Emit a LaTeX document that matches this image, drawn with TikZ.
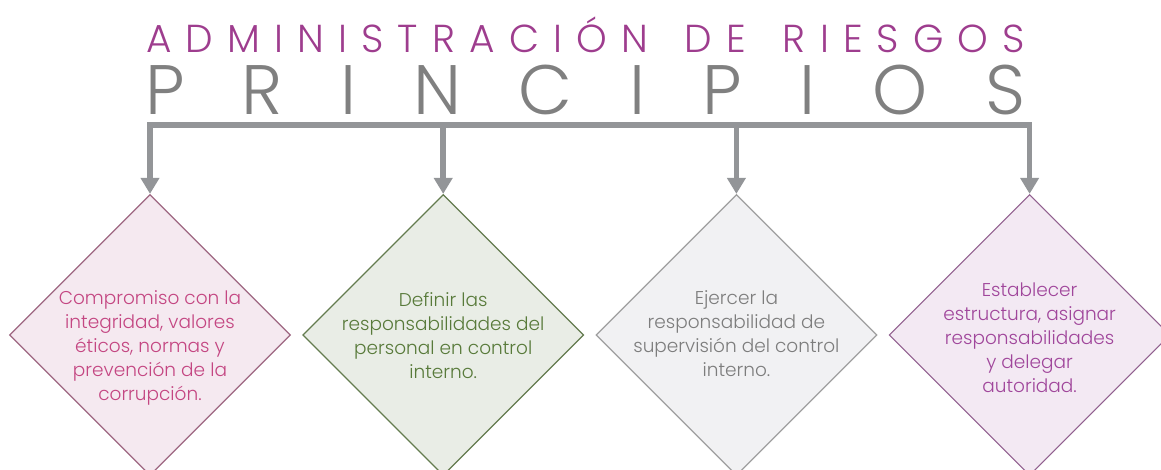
\documentclass[tikz,border=0pt]{standalone}
\usepackage{fontspec}
\setmainfont{Poppins}
\newfontfamily\thinfont{Poppins Light}
\usepackage{tikz}
\usetikzlibrary{arrows.meta,positioning,shapes.geometric}
\usepackage{xcolor}
\definecolor{titlepurple}{RGB}{158,61,142}
\definecolor{titlegray}{RGB}{128,128,128}
\definecolor{bargray}{RGB}{147,149,152}
\definecolor{pinkfill}{RGB}{245,233,240}
\definecolor{pinktext}{RGB}{196,70,130}
\definecolor{greenfill}{RGB}{233,237,230}
\definecolor{greentext}{RGB}{88,122,58}
\definecolor{greyfill}{RGB}{241,241,243}
\definecolor{greytext}{RGB}{125,125,125}
\definecolor{lilacfill}{RGB}{243,233,243}
\definecolor{lilactext}{RGB}{160,70,155}
\newcommand{\gapl}{\hskip 0pt plus 1fil}
\newcommand{\gapw}{\hskip 0pt plus 2.6fil}

\begin{document}
\begin{tikzpicture}[x=1pt,y=-1pt,node distance=11pt,>={Triangle[width=18pt,length=16pt]},
rombo/.style={draw,diamond,aspect=1,minimum width=281pt,minimum height=281pt,inner sep=0pt,line width=1.2pt},
txt/.style={align=center,font=\thinfont\fontsize{18.5}{24}\selectfont},
bar/.style={draw=bargray,line width=5.5pt}]
\path[use as bounding box,clip] (0,0) rectangle (1161,470);
\node[anchor=base west,inner sep=0pt,text=titlepurple,font=\thinfont\fontsize{39}{39}\selectfont] (tit) at (146,53)
{\hbox to 879pt{A\gapl D\gapl M\gapl I\gapl N\gapl I\gapl S\gapl T\gapl R\gapl A\gapl C\gapl I\gapl Ó\gapl N\gapw D\gapl E\gapw R\gapl I\gapl E\gapl S\gapl G\gapl O\gapl S}};
\node[anchor=base west,inner sep=0pt,text=titlegray,font=\thinfont\fontsize{70}{70}\selectfont] (sub) at (145,115)
{\hbox to 880pt{P\gapl R\gapl I\gapl N\gapl C\gapl I\gapl P\gapl I\gapl O\gapl S}};
\node[rombo,draw=pinktext!45!gray,fill=pinkfill] (d1) at (150,335) {};
\node[rombo,right=of d1,draw=greentext!70!gray,fill=greenfill] (d2) {};
\node[rombo,right=of d2,draw=gray!75,fill=greyfill] (d3) {};
\node[rombo,right=of d3,draw=lilactext!55!gray,fill=lilacfill] (d4) {};
\node[txt,text=pinktext] (t1) at ([yshift=-13pt]d1.center) {Compromiso con la\\integridad, valores\\éticos, normas y\\prevención de la\\corrupción.};
\node[txt,text=greentext] (t2) at ([yshift=-1pt]d2.center) {Definir las\\responsabilidades del\\personal en control\\interno.};
\node[txt,text=greytext] (t3) at ([yshift=1pt]d3.center) {Ejercer la\\responsabilidad de\\supervisión del control\\interno.};
\node[txt,text=lilactext] (t4) at ([yshift=-3pt]d4.center) {Establecer\\estructura, asignar\\responsabilidades\\y delegar\\autoridad.};
% barra y flechas
\coordinate (b1) at (d1.north |- 0,125);
\coordinate (b2) at (d2.north |- 0,125);
\coordinate (b3) at (d3.north |- 0,125);
\coordinate (b4) at (d4.north |- 0,125);
\draw[bar,line cap=rect] (b1)--(b4);
\draw[bar,->] (b1)--(d1.north);\draw[bar,->] (b2)--(d2.north);
\draw[bar,->] (b3)--(d3.north);\draw[bar,->] (b4)--(d4.north);
\end{tikzpicture}
\end{document}
